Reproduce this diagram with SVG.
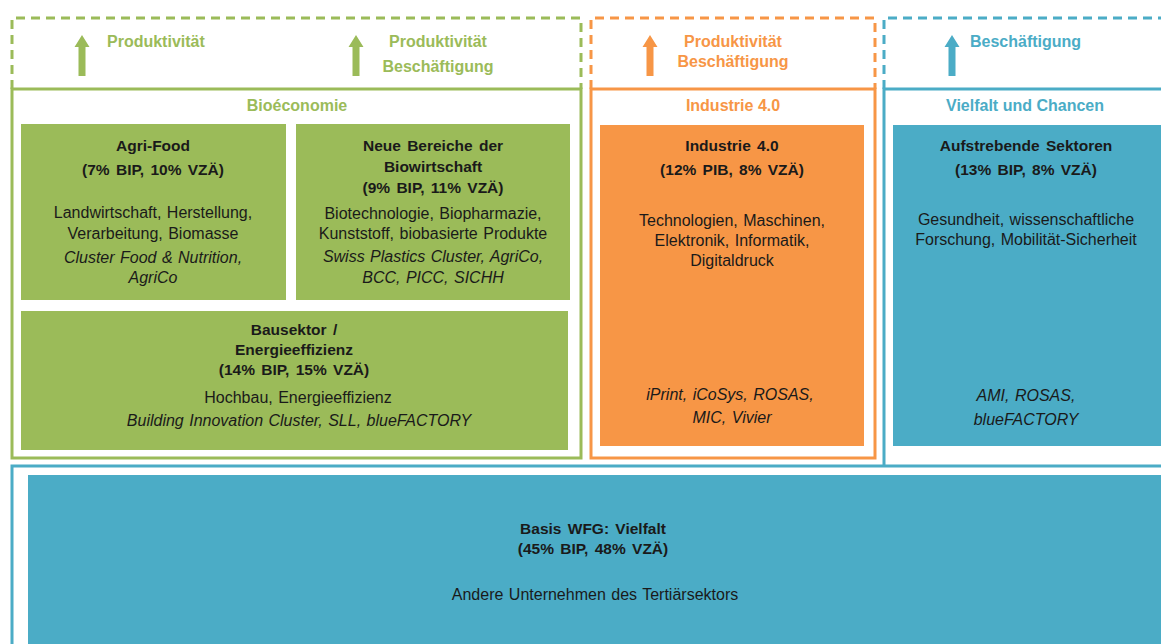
<svg xmlns="http://www.w3.org/2000/svg" xmlns:xlink="http://www.w3.org/1999/xlink" width="1161" height="644" viewBox="0 0 1161 644">
<style>
.g{fill:#9BBB59}.o{fill:#F79646}.b{fill:#4BACC6}
.sg{stroke:#9BBB59}.so{stroke:#F79646}.sb{stroke:#4BACC6}
.dash{fill:none;stroke-width:3;stroke-dasharray:9,6}
.line{fill:none;stroke-width:3}
.hd{font-family:"Liberation Sans",Arial,sans-serif;font-weight:bold;font-size:16px;text-anchor:middle}
.ti{font-family:"Liberation Sans",Arial,sans-serif;font-weight:bold;font-size:16px}
.t{font-family:"Liberation Sans",Arial,sans-serif;font-size:16px;fill:#1a1a1a;text-anchor:middle;word-spacing:1px}
.tb{font-family:"Liberation Sans",Arial,sans-serif;font-size:15.5px;font-weight:bold;fill:#1a1a1a;text-anchor:middle;word-spacing:2px}
.it{font-style:italic}
</style>
<defs>
<path id="arr" d="M0,0 L7.5,12 L3.5,12 L3.5,41 L-3.5,41 L-3.5,12 L-7.5,12 Z"/>
</defs>

<g id="frames">
<path class="dash sg" d="M12,89 V18 H581 V89"/>
<rect class="line sg" x="12" y="89" width="569" height="369"/>
<path class="dash so" d="M591,89 V18 H875 V89"/>
<rect class="line so" x="591" y="89" width="284" height="369"/>
<path class="dash sb" d="M884,89 V18 H1165"/>
<path class="line sb" d="M884,466 V89 H1165"/>
</g>

<g id="header-bio">
<use xlink:href="#arr" x="82" y="35" class="g"/>
<text class="ti g" x="107" y="47">Produktivität</text>
<use xlink:href="#arr" x="356" y="35" class="g"/>
<text class="hd g" x="438" y="47">Produktivität</text>
<text class="hd g" x="438" y="72">Beschäftigung</text>
<text class="hd g" x="297" y="111">Bioéconomie</text>
</g>

<g id="header-ind">
<use xlink:href="#arr" x="650" y="35" class="o"/>
<text class="hd o" x="733" y="47">Produktivität</text>
<text class="hd o" x="733" y="67">Beschäftigung</text>
<text class="hd o" x="733" y="111">Industrie 4.0</text>
</g>

<g id="header-vielfalt">
<use xlink:href="#arr" x="952" y="35" class="b"/>
<text class="ti b" x="970" y="47">Beschäftigung</text>
<text class="hd b" x="1025" y="111">Vielfalt und Chancen</text>
</g>

<g id="agrifood">
<rect class="g" x="21" y="124" width="265" height="176"/>
<text class="tb" x="153" y="151">Agri-Food</text>
<text class="tb" x="153" y="175">(7% BIP, 10% VZÄ)</text>
<text class="t" x="153" y="218">Landwirtschaft, Herstellung,</text>
<text class="t" x="153" y="239">Verarbeitung, Biomasse</text>
<text class="t it" x="153" y="263">Cluster Food &amp; Nutrition,</text>
<text class="t it" x="153" y="283">AgriCo</text>
</g>

<g id="neue-bereiche">
<rect class="g" x="296" y="124" width="274" height="176"/>
<text class="tb" x="433" y="151">Neue Bereiche der</text>
<text class="tb" x="433" y="172">Biowirtschaft</text>
<text class="tb" x="433" y="193">(9% BIP, 11% VZÄ)</text>
<text class="t" x="433" y="219">Biotechnologie, Biopharmazie,</text>
<text class="t" x="433" y="239">Kunststoff, biobasierte Produkte</text>
<text class="t it" x="433" y="262">Swiss Plastics Cluster, AgriCo,</text>
<text class="t it" x="433" y="283">BCC, PICC, SICHH</text>
</g>

<g id="bausektor">
<rect class="g" x="21" y="311" width="547" height="139"/>
<text class="tb" x="294" y="335">Bausektor /</text>
<text class="tb" x="294" y="355">Energieeffizienz</text>
<text class="tb" x="294" y="375">(14% BIP, 15% VZÄ)</text>
<text class="t" x="298" y="403">Hochbau, Energieeffizienz</text>
<text class="t it" x="299" y="426">Building Innovation Cluster, SLL, blueFACTORY</text>
</g>

<g id="industrie">
<rect class="o" x="600" y="125" width="264" height="321"/>
<text class="tb" x="732" y="151">Industrie 4.0</text>
<text class="tb" x="732" y="175">(12% PIB, 8% VZÄ)</text>
<text class="t" x="732" y="226">Technologien, Maschinen,</text>
<text class="t" x="732" y="246">Elektronik, Informatik,</text>
<text class="t" x="732" y="266">Digitaldruck</text>
<text class="t it" x="730" y="400">iPrint, iCoSys, ROSAS,</text>
<text class="t it" x="732" y="423">MIC, Vivier</text>
</g>

<g id="aufstrebende">
<rect class="b" x="893" y="125" width="272" height="321"/>
<text class="tb" x="1026" y="151">Aufstrebende Sektoren</text>
<text class="tb" x="1026" y="175">(13% BIP, 8% VZÄ)</text>
<text class="t" x="1026" y="225">Gesundheit, wissenschaftliche</text>
<text class="t" x="1026" y="245">Forschung, Mobilität-Sicherheit</text>
<text class="t it" x="1026" y="401">AMI, ROSAS,</text>
<text class="t it" x="1026" y="425">blueFACTORY</text>
</g>

<g id="basis">
<rect class="line sb" x="12" y="466" width="1160" height="190"/>
<rect class="b" x="28" y="475" width="1140" height="180"/>
<text class="tb" x="593" y="534">Basis WFG: Vielfalt</text>
<text class="tb" x="593" y="554">(45% BIP, 48% VZÄ)</text>
<text class="t" x="595" y="600">Andere Unternehmen des Tertiärsektors</text>
</g>
</svg>
